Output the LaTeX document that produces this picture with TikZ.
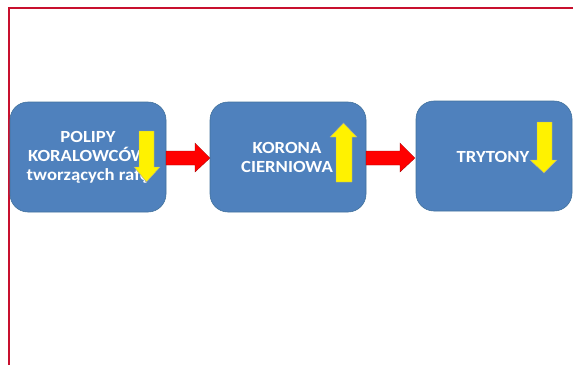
\documentclass[tikz,border=0pt]{standalone}
\usepackage{fontspec}
\setmainfont{Carlito}
\usetikzlibrary{shapes.arrows}
\definecolor{boxblue}{HTML}{4F81BD}
\definecolor{boxedge}{HTML}{41719C}
\definecolor{framered}{HTML}{C8102E}
\tikzset{
  procbox/.style={draw=boxedge, line width=0.6pt, fill=boxblue, rounded corners=18pt, minimum width=156pt, minimum height=110pt, inner sep=0pt},
  boxtext/.style={text=white, font=\bfseries\fontsize{17}{19}\selectfont, align=center, xscale=1.1},
  redarrow/.style={draw=red!60!black, line width=0.3pt, fill=red},
  yelarrow/.style={draw=gray!70, line width=0.4pt, fill=yellow},
}
\begin{document}
\begin{tikzpicture}[x=1pt,y=-1pt]
\useasboundingbox (0,0) rectangle (573,365);
% frame
\draw[framered, line width=1.3pt] (9,365) -- (9,8) -- (573,8);
% boxes
\node[procbox] (b1) at (88,157) {};
\node[procbox] (b2) at (288,157) {};
\node[procbox] (b3) at (494,156) {};
% texts
\node[boxtext] (t1) at (88,157) {POLIPY\\KORALOWCÓW\\tworzących rafę};
\node[boxtext] (t2) at (287,157) {KORONA\\CIERNIOWA};
\node[boxtext, anchor=base] (t3) at (493,162) {TRYTONY};
% red connector arrows
\draw[redarrow] (166,151) -- (195,151) -- (195,143) -- (210,158) -- (195,172) -- (195,165) -- (166,165) -- cycle;
\draw[redarrow] (366,151) -- (400,151) -- (400,143) -- (415,158) -- (400,172) -- (400,165) -- (366,165) -- cycle;
% yellow arrows
\draw[yelarrow] (139,131) -- (154,131) -- (154,167) -- (160,167) -- (146.5,182) -- (134,167) -- (139,167) -- cycle;
\draw[yelarrow] (336,182) -- (352,182) -- (352,137) -- (357,137) -- (343.5,123) -- (330,137) -- (336,137) -- cycle;
\draw[yelarrow] (537,122) -- (552,122) -- (552,160) -- (557,160) -- (544,173) -- (530,160) -- (537,160) -- cycle;
\end{tikzpicture}
\end{document}
